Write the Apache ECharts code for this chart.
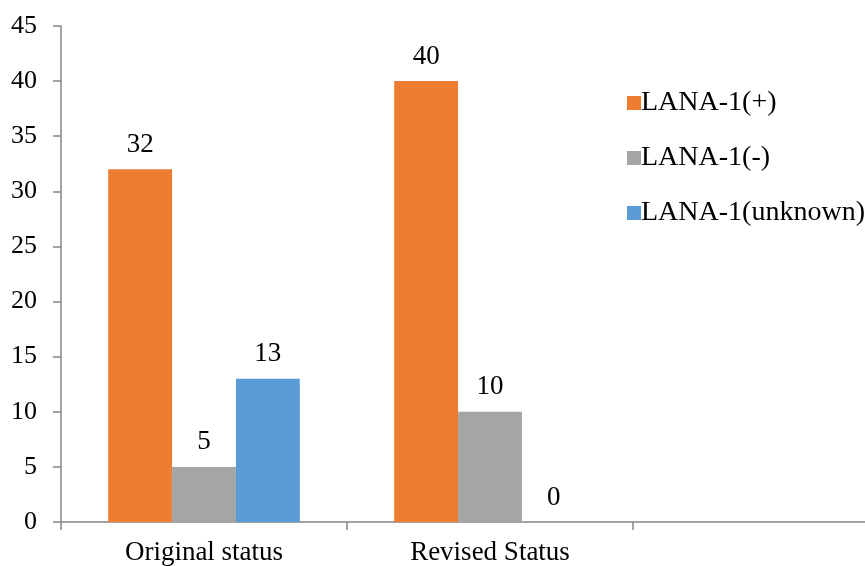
<!DOCTYPE html>
<html>
<head>
<meta charset="utf-8">
<script src="https://cdn.jsdelivr.net/npm/echarts@6/dist/echarts.min.js"></script>
<style>
  html, body { margin: 0; padding: 0; background: #fff; overflow: hidden; }
  #wrap { width: 865px; height: 566px; overflow: hidden; }
  /* plot continues past the right edge; the third (empty) category is cut off */
  #chart { width: 919px; height: 566px; }
</style>
</head>
<body>
<div id="wrap"><div id="chart"></div></div>
<script>
// Categories along the x axis (third slot is left empty)
const categories = ['Original status', 'Revised Status', ''];

// Counts per LANA-1 status
const seriesNames = ['LANA-1(+)', 'LANA-1(-)', 'LANA-1(unknown)'];
const lanaPositive = [32, 40, null];
const lanaNegative = [5, 10, null];
const lanaUnknown = [13, 0, null];

const colors = ['#ED7D31', '#A5A5A5', '#5B9BD5'];
const fontFamily = '"Liberation Serif", "Times New Roman", serif';

function barSeries(name, data, color) {
  return {
    name: name,
    type: 'bar',
    data: data,
    barGap: '0%',
    barCategoryGap: '33%',
    itemStyle: { color: color },
    label: {
      show: true,
      position: 'top',
      distance: 11,
      color: '#000',
      fontFamily: fontFamily,
      fontSize: 27
    }
  };
}

const chart = echarts.init(document.getElementById('chart'), null, { renderer: 'canvas' });
chart.setOption({
  animation: false,
  backgroundColor: '#fff',
  color: colors,
  textStyle: { fontFamily: fontFamily },
  grid: { left: 61, top: 26, bottom: 44, right: 0, containLabel: false },
  legend: {
    orient: 'vertical',
    left: 622,
    top: 84,
    itemWidth: 14,
    itemHeight: 14,
    itemGap: 27,
    icon: 'rect',
    textStyle: { fontFamily: fontFamily, fontSize: 28, color: '#000', padding: [0, 0, 0, -5] },
    data: seriesNames
  },
  xAxis: {
    type: 'category',
    data: categories,
    axisLine: { lineStyle: { color: '#868686', width: 1.5 } },
    axisTick: { show: true, length: 8, lineStyle: { color: '#868686', width: 1.5 } },
    axisLabel: { color: '#000', fontFamily: fontFamily, fontSize: 27, margin: 17 }
  },
  yAxis: {
    type: 'value',
    min: 0,
    max: 45,
    interval: 5,
    splitLine: { show: false },
    axisLine: { show: true, lineStyle: { color: '#868686', width: 1.5 } },
    axisTick: { show: true, length: 8, lineStyle: { color: '#868686', width: 1.5 } },
    axisLabel: { color: '#000', fontFamily: fontFamily, fontSize: 26, margin: 24 }
  },
  series: [
    barSeries(seriesNames[0], lanaPositive, colors[0]),
    barSeries(seriesNames[1], lanaNegative, colors[1]),
    barSeries(seriesNames[2], lanaUnknown, colors[2])
  ]
});
</script>
</body>
</html>
